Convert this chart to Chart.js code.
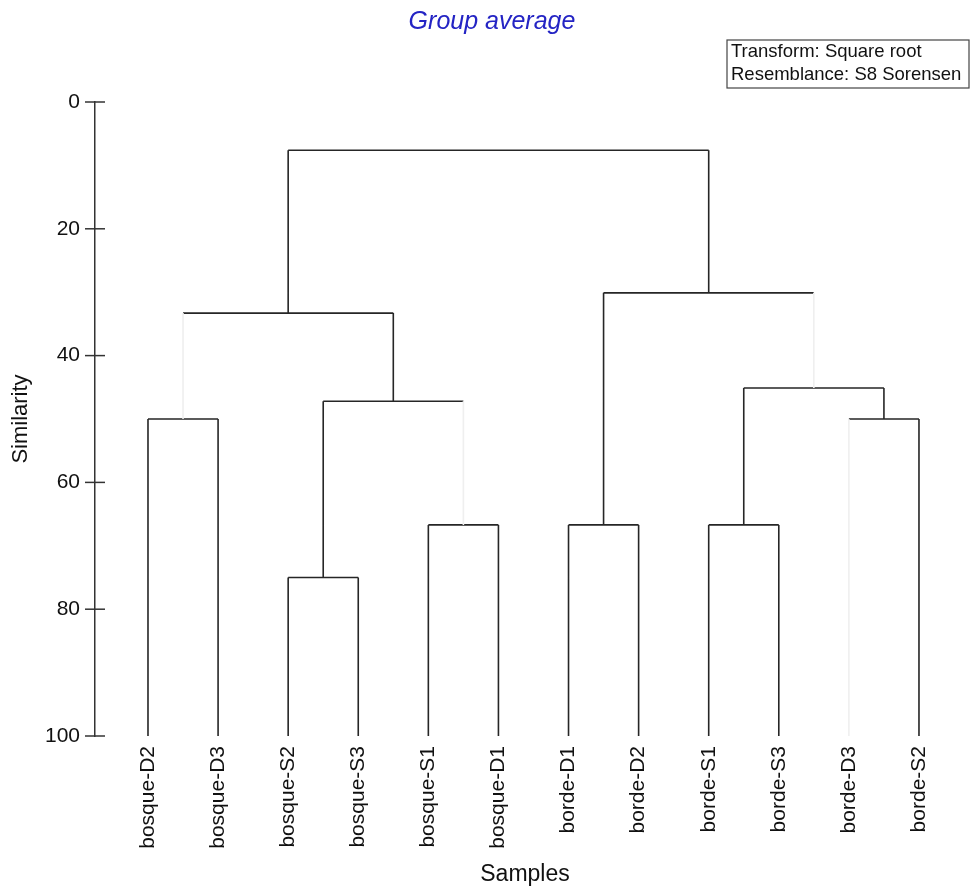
<!DOCTYPE html>
<html>
<head>
<meta charset="utf-8">
<script src="https://cdn.jsdelivr.net/npm/chart.js@4"></script>
<style>
  html, body { margin: 0; padding: 0; background: #fff; }
  #wrap { width: 971px; height: 892px; }
</style>
</head>
<body>
<div id="wrap"><canvas id="c" width="971" height="892"></canvas></div>
<script>
// Samples, in dendrogram leaf order
const samples = ['bosque-D2', 'bosque-D3', 'bosque-S2', 'bosque-S3', 'bosque-S1', 'bosque-D1',
                 'borde-D1', 'borde-D2', 'borde-S1', 'borde-S3', 'borde-D3', 'borde-S2'];

// Group-average joins: node ids < 12 are samples, 12 + k is the k-th join
const joinA = [0, 2, 4, 13, 12, 6, 8, 10, 18, 17, 16];
const joinB = [1, 3, 5, 14, 15, 7, 9, 11, 19, 20, 21];
const joinSimilarity = [50, 75, 66.7, 47.2, 33.3, 66.7, 66.7, 50, 45.1, 30.1, 7.6];

// Branches drawn pale (parent node, child node)
const paleBranches = [[16, 12], [15, 14], [21, 20], [19, 10]];

const yTicks = [0, 20, 40, 60, 80, 100];
const leafLevel = 100;

// Position of every node in data units (leaf index, similarity)
const nodeX = samples.map((_, i) => i);
const nodeY = samples.map(() => leafLevel);
joinA.forEach((a, k) => {
  const b = joinB[k];
  nodeX.push((nodeX[a] + nodeX[b]) / 2);
  nodeY.push(joinSimilarity[k]);
});

const dark = [], pale = [];
function isPale(parent, child) {
  return paleBranches.some(p => p[0] === parent && p[1] === child);
}
function addSeg(list, x0, y0, x1, y1) {
  list.push({ x: x0, y: y0 }, { x: x1, y: y1 }, { x: x1, y: null });
}
joinA.forEach((a, k) => {
  const id = samples.length + k;
  const b = joinB[k];
  const h = joinSimilarity[k];
  addSeg(isPale(id, a) ? pale : dark, nodeX[a], nodeY[a], nodeX[a], h);
  addSeg(dark, nodeX[a], h, nodeX[b], h);
  addSeg(isPale(id, b) ? pale : dark, nodeX[b], h, nodeX[b], nodeY[b]);
});

const FONT = "'Liberation Sans', Arial, sans-serif";

const overlay = {
  id: 'overlay',
  afterDraw(chart) {
    const ctx = chart.ctx;
    const ys = chart.scales.y;
    const left = chart.chartArea.left;
    ctx.save();
    // ticks crossing the similarity axis
    ctx.strokeStyle = '#333';
    ctx.lineWidth = 1.5;
    yTicks.forEach(v => {
      const py = ys.getPixelForValue(v);
      ctx.beginPath();
      ctx.moveTo(left - 10, py);
      ctx.lineTo(left + 10, py);
      ctx.stroke();
    });
    // heading
    ctx.fillStyle = '#2424c4';
    ctx.font = 'italic 25px ' + FONT;
    ctx.textAlign = 'center';
    ctx.textBaseline = 'middle';
    ctx.fillText('Group average', 492, 22);
    // method box
    ctx.fillStyle = '#fff';
    ctx.strokeStyle = '#444';
    ctx.lineWidth = 1.2;
    ctx.fillRect(727, 40, 242, 48);
    ctx.strokeRect(727, 40, 242, 48);
    ctx.fillStyle = '#111';
    ctx.font = '18.5px ' + FONT;
    ctx.textAlign = 'left';
    ctx.fillText('Transform: Square root', 731, 52);
    ctx.fillText('Resemblance: S8 Sorensen', 731, 75);
    ctx.restore();
  }
};

new Chart(document.getElementById('c'), {
  type: 'line',
  data: {
    datasets: [
      { data: pale, borderColor: '#efefef', borderWidth: 1.6, pointRadius: 0, spanGaps: false },
      { data: dark, borderColor: '#262626', borderWidth: 1.6, pointRadius: 0, spanGaps: false }
    ]
  },
  options: {
    responsive: false,
    animation: false,
    layout: { padding: { top: 102, right: 16, left: 0, bottom: 0 } },
    plugins: { legend: { display: false }, tooltip: { enabled: false } },
    scales: {
      x: {
        type: 'linear',
        min: -0.756,
        max: 11.514,
        afterBuildTicks(scale) { scale.ticks = samples.map((_, i) => ({ value: i })); },
        afterFit(scale) { scale.height = 156; },
        grid: { display: false, drawTicks: false },
        border: { display: false },
        ticks: {
          autoSkip: false,
          minRotation: 90,
          maxRotation: 90,
          padding: 10,
          color: '#111',
          font: { family: FONT, size: 21 },
          callback: v => samples[v]
        },
        title: {
          display: true,
          text: 'Samples',
          color: '#111',
          font: { family: FONT, size: 23 },
          padding: { top: 0, bottom: 4 }
        }
      },
      y: {
        min: 0,
        max: 100,
        reverse: true,
        afterBuildTicks(scale) { scale.ticks = yTicks.map(v => ({ value: v })); },
        afterFit(scale) { scale.width = 95; },
        grid: { drawOnChartArea: false, drawTicks: false },
        border: { display: true, color: '#333', width: 1.5 },
        ticks: {
          padding: 15,
          color: '#111',
          font: { family: FONT, size: 21 }
        },
        title: {
          display: true,
          text: 'Similarity',
          color: '#111',
          font: { family: FONT, size: 22 },
          padding: { top: 8, bottom: 0 }
        }
      }
    }
  },
  plugins: [overlay]
});
</script>
</body>
</html>
